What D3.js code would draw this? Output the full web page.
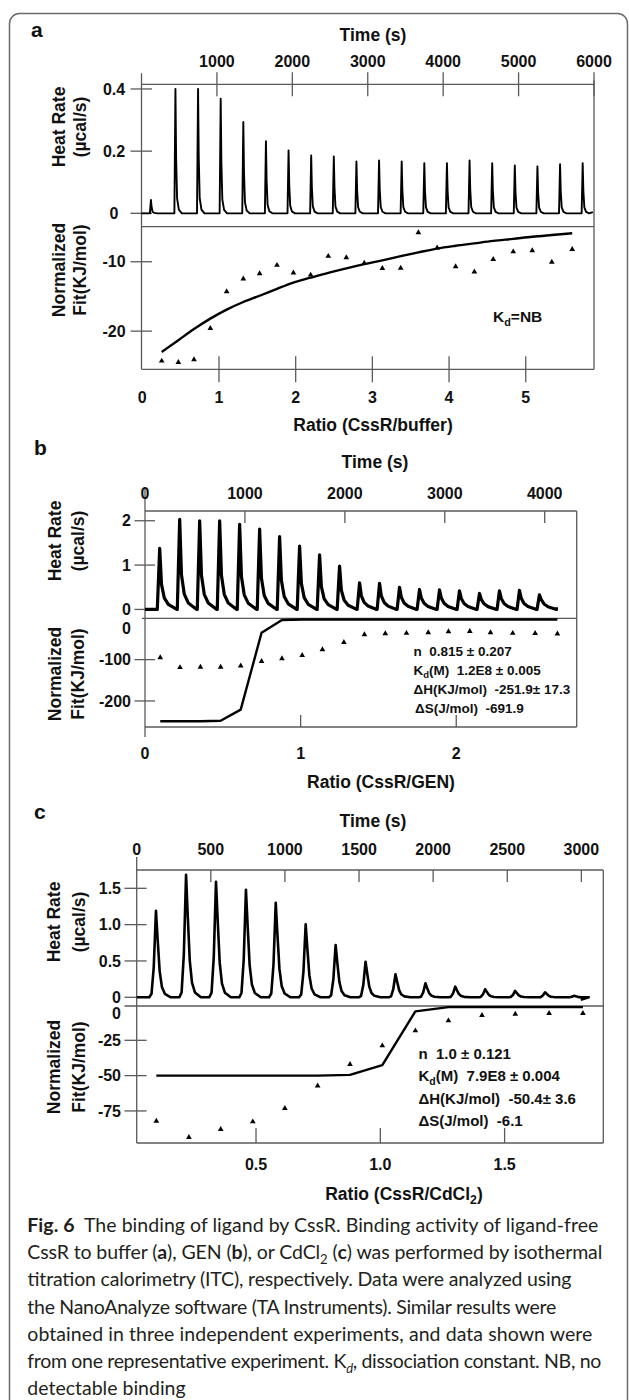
<!DOCTYPE html>
<html>
<head>
<meta charset="utf-8">
<script src="https://cdn.jsdelivr.net/npm/d3@7"></script>
<style>
  body { margin: 0; background: #fff; }
  svg text { font-family: "Liberation Sans", Arial, sans-serif; fill: #111; white-space: pre; }
  svg text.cap { font-family: Lato, "Open Sans", sans-serif; fill: #231f20; font-weight: normal; }
</style>
</head>
<body>
<svg id="fig" width="629" height="1400"></svg>
<script>
// ---- panel a : CssR / buffer ----
var aInjTime = [125, 450, 750, 1050, 1350, 1650, 1950, 2250, 2550, 2850, 3150, 3450, 3750, 4050, 4350, 4650, 4950, 5250, 5550, 5850];
var aPeak = [0.043, 0.40, 0.40, 0.369, 0.294, 0.232, 0.202, 0.186, 0.183, 0.167, 0.170, 0.167, 0.161, 0.161, 0.170, 0.161, 0.154, 0.151, 0.158, 0.161];
var aRatio = [0.253, 0.47, 0.674, 0.887, 1.10, 1.317, 1.53, 1.756, 1.97, 2.195, 2.425, 2.66, 2.894, 3.13, 3.37, 3.60, 3.845, 4.086, 4.33, 4.576, 4.837, 5.085, 5.34, 5.606];
var aHeat = [-24.3, -24.5, -24.1, -19.6, -14.3, -12.45, -11.7, -10.5, -11.6, -11.9, -9.2, -9.4, -10.2, -10.95, -10.9, -5.8, -8.0, -10.7, -11.45, -9.65, -8.55, -8.4, -10.05, -8.2];
var aFit = [-23.0, -21.3, -19.7, -18.2, -16.9, -15.8, -14.9, -13.9, -13.0, -12.3, -11.6, -10.95, -10.35, -9.8, -9.2, -8.65, -8.1, -7.7, -7.35, -7.0, -6.7, -6.4, -6.15, -5.9];

// ---- panel b : CssR / GEN ----
var bInjTime = [133, 333, 533, 733, 933, 1133, 1333, 1533, 1733, 1933, 2133, 2333, 2533, 2733, 2933, 3133, 3333, 3533, 3733, 3933];
var bPeak = [1.38, 2.03, 2.0, 2.0, 1.92, 1.81, 1.64, 1.43, 1.23, 0.98, 0.60, 0.59, 0.50, 0.45, 0.44, 0.42, 0.36, 0.42, 0.43, 0.33];
var bRatio = [0.098, 0.225, 0.356, 0.486, 0.615, 0.749, 0.88, 1.01, 1.14, 1.278, 1.41, 1.544, 1.68, 1.82, 1.95, 2.087, 2.22, 2.363, 2.507, 2.65];
var bHeat = [-95, -119, -118, -118, -115, -104, -97.6, -89.6, -75.8, -58, -39.5, -37, -36, -34.7, -32, -31.5, -34.7, -36, -36.5, -37.5];
var bFit = [-249, -249, -249, -248, -221, -35, -4, -3, -3, -3, -3, -3, -3, -3, -3, -3, -3, -3, -3, -3];
var bStats = ["n  0.815 \u00b1 0.207", "K|d|(M)  1.2E8 \u00b1 0.005", "\u0394H(KJ/mol)  -251.9\u00b1 17.3", "\u0394S(J/mol)  -691.9"];

// ---- panel c : CssR / CdCl2 ----
var cInjTime = [130, 333, 535, 737, 938, 1140, 1342, 1544, 1746, 1948, 2149, 2351, 2553, 2755, 2950];
var cPeak = [1.19, 1.685, 1.59, 1.478, 1.30, 1.005, 0.72, 0.49, 0.317, 0.193, 0.146, 0.11, 0.087, 0.069, 0.02];
var cRatio = [0.099, 0.23, 0.358, 0.487, 0.616, 0.748, 0.878, 1.008, 1.141, 1.274, 1.409, 1.543, 1.679, 1.815];
var cHeat = [-82.2, -93.7, -88, -82.6, -73.2, -57.2, -42, -28.8, -18.2, -11.1, -7.3, -6.4, -5.9, -5.9];
var cFit = [-50, -50, -50, -50, -50, -50, -49.5, -42.5, -4.5, -1.5, -1.5, -1.5, -1.5, -1.5];
var cStats = ["n  1.0 \u00b1 0.121", "K|d|(M)  7.9E8 \u00b1 0.004", "\u0394H(KJ/mol)  -50.4\u00b1 3.6", "\u0394S(J/mol)  -6.1"];

var captionLines = [
  [["b", "Fig. 6"], ["n", "\u00a0 The binding of ligand by CssR. Binding activity of ligand-free"]],
  [["n", "CssR to buffer ("], ["b", "a"], ["n", "), GEN ("], ["b", "b"], ["n", "), or CdCl"], ["s", "2"], ["n", " ("], ["b", "c"], ["n", ") was performed by isothermal"]],
  [["n", "titration calorimetry (ITC), respectively. Data were analyzed using"]],
  [["n", "the NanoAnalyze software (TA Instruments). Similar results were"]],
  [["n", "obtained in three independent experiments, and data shown were"]],
  [["n", "from one representative experiment. K"], ["si", "d"], ["n", ", dissociation constant. NB, no"]],
  [["n", "detectable binding"]]
];

var svg = d3.select("#fig");
var GRAY = "#5a5a5a";

svg.append("rect")
  .attr("x", 9.5).attr("y", 13.5).attr("width", 618).attr("height", 1430).attr("rx", 10)
  .attr("fill", "none").attr("stroke", "#6a6a6a").attr("stroke-width", 1.5);

function seg(g, x1, y1, x2, y2) {
  g.append("line").attr("x1", x1).attr("y1", y1).attr("x2", x2).attr("y2", y2)
    .attr("stroke", GRAY).attr("stroke-width", 1.3);
}

// label with optional "|sub|" part
function label(g, x, y, s, size, anchor) {
  var t = g.append("text").attr("x", x).attr("y", y).attr("font-size", size)
    .attr("font-weight", "bold").attr("text-anchor", anchor || "middle");
  var parts = s.split("|");
  parts.forEach(function (p, i) {
    if (!p) return;
    var ts = t.append("tspan").text(p);
    if (i % 2 == 1) ts.attr("font-size", size * 0.7).attr("dy", size * 0.25);
    else if (i > 0) ts.attr("dy", -size * 0.25);
  });
  return t;
}

function vlabel(g, x, y, s, size) {
  g.append("text").attr("transform", "translate(" + x + "," + y + ") rotate(-90)")
    .attr("text-anchor", "middle").attr("dominant-baseline", "central")
    .attr("font-size", size).attr("font-weight", "bold").text(s);
}

// builds the raw trace: flat baseline with one peak per injection
function heatPoints(times, peaks, shape, tEnd, endVal) {
  var pts = [[0, 0]];
  times.forEach(function (t, i) {
    shape.forEach(function (s) {
      pts.push([t + s[0], peaks[i] * s[1] + (s[2] || 0)]);
    });
  });
  pts.push([tEnd, endVal]);
  return pts;
}

function drawPanel(p) {
  var g = svg.append("g");
  var L = p.time.range()[0], R = p.time.range()[1];
  var T = p.heatY.range()[1], S = p.heatY.range()[0], B = p.fitY.range()[0];

  // box
  seg(g, L, T, R, T);
  seg(g, p.sepFrom, S, R, S);
  seg(g, L, B, R, B);
  seg(g, L, T - p.leftUp, L, B + p.leftDown);
  seg(g, R, T - p.rightUp, R, B);

  // time axis (top)
  g.selectAll(null).data(p.timeTicks).enter().append("line")
    .attr("x1", function (d) { return p.time(d); }).attr("x2", function (d) { return p.time(d); })
    .attr("y1", T - p.tickUp).attr("y2", T + 12)
    .attr("stroke", GRAY).attr("stroke-width", 1.3);
  g.selectAll(null).data(p.timeLabels).enter().append("text")
    .attr("x", function (d) { return p.time(d); }).attr("y", p.timeLabelY)
    .attr("text-anchor", "middle").attr("font-size", 16).attr("font-weight", "bold")
    .text(function (d) { return d; });
  label(g, p.timeTitle[0], p.timeTitle[1], "Time (s)", 17.5);

  // heat rate axis
  g.selectAll(null).data(p.heatTicks).enter().append("line")
    .attr("x1", p.yTick[0]).attr("x2", p.yTick[1])
    .attr("y1", function (d) { return p.heatY(d); }).attr("y2", function (d) { return p.heatY(d); })
    .attr("stroke", GRAY).attr("stroke-width", 1.3);
  g.selectAll(null).data(p.heatTicks).enter().append("text")
    .attr("x", p.yLabelX).attr("y", function (d) { return p.heatY(d); })
    .attr("dy", "0.35em").attr("text-anchor", p.yAnchor)
    .attr("font-size", 16).attr("font-weight", "bold")
    .text(function (d, i) { return p.heatFmt[i]; });

  // fit axis
  g.selectAll(null).data(p.fitTicks).enter().append("line")
    .attr("x1", p.yTick[0]).attr("x2", p.yTick[1])
    .attr("y1", function (d) { return p.fitY(d); }).attr("y2", function (d) { return p.fitY(d); })
    .attr("stroke", GRAY).attr("stroke-width", 1.3);
  g.selectAll(null).data(p.fitTicks).enter().append("text")
    .attr("x", p.yLabelX).attr("y", function (d) { return p.fitY(d); })
    .attr("dy", "0.35em").attr("text-anchor", p.yAnchor)
    .attr("font-size", 16).attr("font-weight", "bold")
    .text(function (d) { return d; });
  if (p.fitZeroLabel) {
    g.append("text").attr("x", p.yLabelX).attr("y", p.fitY(0) + p.fitZeroLabel)
      .attr("dy", "0.35em").attr("text-anchor", p.yAnchor)
      .attr("font-size", 16).attr("font-weight", "bold").text("0");
  }

  // ratio axis (bottom)
  g.selectAll(null).data(p.ratioTicks).enter().append("line")
    .attr("x1", function (d) { return p.ratio(d); }).attr("x2", function (d) { return p.ratio(d); })
    .attr("y1", B - p.rTickUp).attr("y2", B + p.rTickDown)
    .attr("stroke", GRAY).attr("stroke-width", 1.3);
  g.selectAll(null).data(p.ratioLabels).enter().append("text")
    .attr("x", function (d) { return p.ratio(d); }).attr("y", p.ratioLabelY)
    .attr("text-anchor", "middle").attr("font-size", 16).attr("font-weight", "bold")
    .text(function (d, i) { return p.ratioFmt[i]; });

  // axis titles
  vlabel(g, p.titleX[0], p.heatTitleY, "Heat Rate", 17.5);
  vlabel(g, p.titleX[1], p.heatTitleY, "(\u00b5cal/s)", 17.5);
  vlabel(g, p.titleX[0], p.fitTitleY, "Normalized", 17.5);
  vlabel(g, p.titleX[1], p.fitTitleY, "Fit(KJ/mol)", 17.5);
  label(g, p.letter[1], p.letter[2], p.letter[0], 21, "start");

  // raw heat trace
  var trace = d3.line()
    .x(function (d) { return p.time(d[0]); })
    .y(function (d) { return p.heatY(d[1]); });
  g.append("path").datum(p.trace).attr("d", trace)
    .attr("fill", "none").attr("stroke", "#000").attr("stroke-width", p.traceWidth)
    .attr("stroke-linejoin", "round");

  // integrated heats + fit
  var fitLine = d3.line()
    .curve(p.smooth ? d3.curveMonotoneX : d3.curveLinear)
    .x(function (d) { return p.ratio(d[0]); })
    .y(function (d) { return p.fitY(d[1]); });
  g.append("path").datum(d3.zip(p.r, p.fit)).attr("d", fitLine)
    .attr("fill", "none").attr("stroke", "#000").attr("stroke-width", 2.4)
    .attr("stroke-linejoin", "round");
  g.selectAll(null).data(d3.zip(p.r, p.heat)).enter().append("path")
    .attr("d", d3.symbol(d3.symbolTriangle).size(14))
    .attr("transform", function (d) { return "translate(" + p.ratio(d[0]) + "," + p.fitY(d[1]) + ")"; })
    .attr("fill", "#000");

  return g;
}

// ---------- a ----------
var aShape = [[-14, 0], [0, 1], [9, 0.45], [22, 0.12], [45, 0.03], [85, 0]];
var ga = drawPanel({
  letter: ["a", 31, 37],
  time: d3.scaleLinear().domain([0, 6000]).range([141.5, 594]),
  heatY: d3.scaleLinear().domain([-0.043, 0.415]).range([226.7, 84.3]),
  fitY: d3.scaleLinear().domain([-25.5, -4.95]).range([369.3, 226.7]),
  ratio: d3.scaleLinear().domain([0, 5.89]).range([142.3, 594]),
  sepFrom: 141.5, leftUp: 11, leftDown: 0, rightUp: 4, tickUp: 12,
  timeTicks: [1000, 2000, 3000, 4000, 5000, 6000],
  timeLabels: [1000, 2000, 3000, 4000, 5000, 6000], timeLabelY: 66.5,
  timeTitle: [373, 41],
  heatTicks: [0, 0.2, 0.4], heatFmt: ["0", "0.2", "0.4"],
  fitTicks: [-10, -20], fitZeroLabel: null,
  yTick: [130.5, 152], yLabelX: 114, yAnchor: "middle",
  ratioTicks: [1, 2, 3, 4, 5], rTickUp: 13, rTickDown: 13,
  ratioLabels: [0, 1, 2, 3, 4, 5], ratioFmt: ["0", "1", "2", "3", "4", "5"], ratioLabelY: 402.5,
  titleX: [59, 80], heatTitleY: 127, fitTitleY: 270,
  trace: heatPoints(aInjTime, aPeak, aShape, 5985, 0.004),
  traceWidth: 1.9,
  r: aRatio, heat: aHeat, fit: aFit, smooth: true
});
label(ga, 373, 431, "Ratio (CssR/buffer)", 17.5);
label(ga, 493, 322, "K|d|=NB", 15.5, "start");

// ---------- b ----------
var bShape = [[-10, 0, 0], [14, 1, 0], [32, 0.33, 0.11], [60, 0.13, 0.08], [100, 0.05, 0.045], [185, 0, 0]];
var gb = drawPanel({
  letter: ["b", 34, 455],
  time: d3.scaleLinear().domain([0, 4320]).range([145, 576.7]),
  heatY: d3.scaleLinear().domain([-0.2, 2.22]).range([618.3, 511]),
  fitY: d3.scaleLinear().domain([-263, 0]).range([727, 618.3]),
  ratio: d3.scaleLinear().domain([0, 2.774]).range([145, 576.7]),
  sepFrom: 142, leftUp: 24, leftDown: 10, rightUp: 0, tickUp: 0,
  timeTicks: [1000, 2000, 3000, 4000],
  timeLabels: [0, 1000, 2000, 3000, 4000], timeLabelY: 499,
  timeTitle: [375, 468],
  heatTicks: [0, 1, 2], heatFmt: ["0", "1", "2"],
  fitTicks: [-100, -200], fitZeroLabel: 10,
  yTick: [134.5, 155], yLabelX: 131, yAnchor: "end",
  ratioTicks: [1, 2], rTickUp: 12, rTickDown: 0,
  ratioLabels: [0, 1, 2], ratioFmt: ["0", "1", "2"], ratioLabelY: 759,
  titleX: [54.5, 77.5], heatTitleY: 541, fitTitleY: 674,
  trace: heatPoints(bInjTime, bPeak, bShape, 4117, 0.05),
  traceWidth: 3.2,
  r: bRatio, heat: bHeat, fit: bFit
});
label(gb, 381, 788, "Ratio (CssR/GEN)", 17.5);
bStats.forEach(function (s, i) {
  label(gb, i == 3 ? 415 : 413.5, 655.5 + i * 19, s, 13.5, "start");
});

// ---------- c ----------
var cShape = [[-45, 0], [-30, 0.04], [-15, 0.35], [0, 1], [12, 0.65], [25, 0.3], [40, 0.12], [60, 0.04], [100, 0]];
var gc = drawPanel({
  letter: ["c", 34, 819],
  time: d3.scaleLinear().domain([0, 3148]).range([136.7, 603.3]),
  heatY: d3.scaleLinear().domain([-0.12, 1.752]).range([1006, 870]),
  fitY: d3.scaleLinear().domain([-97.7, 0]).range([1143, 1005]),
  ratio: d3.scaleLinear().domain([0.02, 1.897]).range([136.7, 603.3]),
  sepFrom: 124.5, leftUp: 13, leftDown: 0, rightUp: 0, tickUp: 0,
  timeTicks: [500, 1000, 1500, 2000, 2500, 3000],
  timeLabels: [0, 500, 1000, 1500, 2000, 2500, 3000], timeLabelY: 855,
  timeTitle: [373, 827],
  heatTicks: [0, 0.5, 1, 1.5], heatFmt: ["0", "0.5", "1.0", "1.5"],
  fitTicks: [-25, -50, -75], fitZeroLabel: 8,
  yTick: [124.5, 146.6], yLabelX: 121, yAnchor: "end",
  ratioTicks: [0.5, 1.0, 1.5], rTickUp: 15, rTickDown: 0,
  ratioLabels: [0.5, 1.0, 1.5], ratioFmt: ["0.5", "1.0", "1.5"], ratioLabelY: 1170,
  titleX: [53.5, 78.5], heatTitleY: 922, fitTitleY: 1067,
  trace: heatPoints(cInjTime, cPeak, cShape, 2996, -0.035),
  traceWidth: 2.6,
  r: cRatio, heat: cHeat, fit: cFit
});
label(gc, 404, 1200, "Ratio (CssR/CdCl|2|)", 17.5);
cStats.forEach(function (s, i) {
  label(gc, 418.5, 1059 + i * 22.3, s, 15, "start");
});

// ---------- caption ----------
var capWidths = [571, 575, 544, 529, 565, 574, null];
captionLines.forEach(function (line, i) {
  var t = svg.append("text").attr("class", "cap")
    .attr("x", 27.3).attr("y", 1232 + i * 27.2).attr("font-size", 19.5);
  if (capWidths[i]) t.attr("textLength", capWidths[i]).attr("lengthAdjust", "spacing");
  var prevSub = false;
  line.forEach(function (part) {
    var ts = t.append("tspan").text(part[1]);
    var isSub = part[0] == "s" || part[0] == "si";
    if (part[0] == "b") ts.attr("font-weight", "bold");
    if (isSub) ts.attr("font-size", 13).attr("dy", 5);
    if (part[0] == "si") ts.attr("font-style", "italic");
    if (!isSub && prevSub) ts.attr("dy", -5);
    prevSub = isSub;
  });
});
</script>
</body>
</html>
